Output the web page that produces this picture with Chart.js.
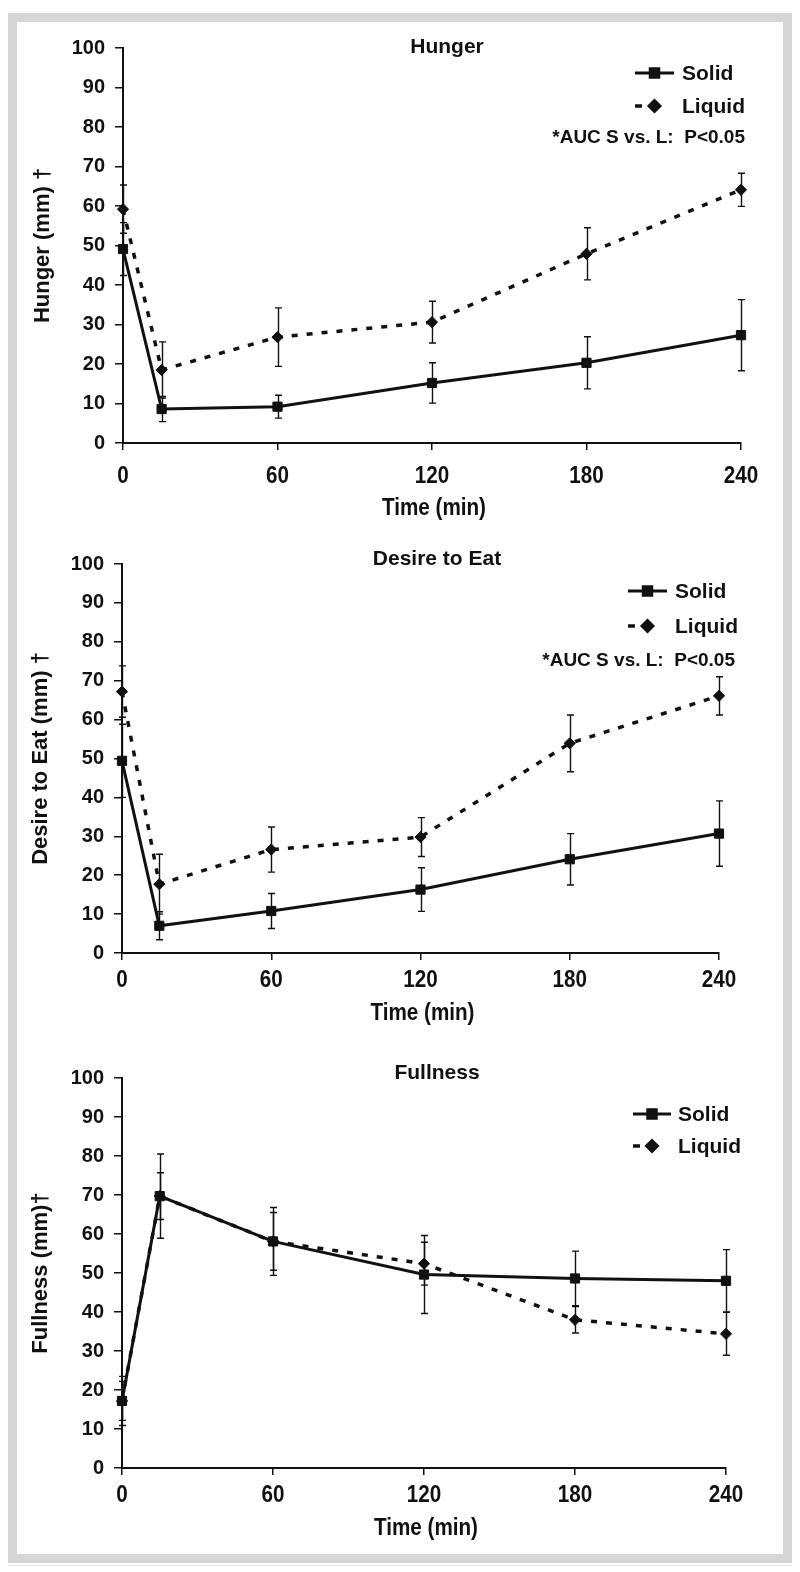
<!DOCTYPE html>
<html>
<head>
<meta charset="utf-8">
<script src="https://cdn.jsdelivr.net/npm/chart.js@4.4.1/dist/chart.umd.min.js"></script>
<style>
  html, body { margin: 0; padding: 0; background: #fff; }
  body { width: 800px; height: 1572px; position: relative; overflow: hidden; }
  #frame {
    position: absolute; left: 8px; top: 13px;
    width: 766px; height: 1532px;
    border: 9px solid #d6d6d6; background: #fff;
    box-shadow: 0 2px 0 #fff, 0 3px 0 #e6e6e6;
  }
  canvas { position: absolute; left: 0; }
</style>
</head>
<body>
<div id="frame"></div>
<canvas id="c1" width="800" height="530" style="top:0px"></canvas>
<canvas id="c2" width="800" height="510" style="top:530px"></canvas>
<canvas id="c3" width="800" height="532" style="top:1040px"></canvas>

<script>
// ── Datos ──────────────────────────────────────────────────────────────────
const TIMES        = [0, 15, 60, 120, 180, 240];
const X_TICKS      = [0, 60, 120, 180, 240];
const X_TITLE      = 'Time (min)';
const SERIES_NAMES = ['Solid', 'Liquid'];

const HUNGER_SOLID       = [49.1, 8.6, 9.2, 15.2, 20.3, 27.3];
const HUNGER_SOLID_ERR   = [6.7, 3.2, 2.9, 5.1, 6.6, 9.0];
const HUNGER_LIQUID      = [59.2, 18.5, 26.8, 30.6, 47.9, 64.1];
const HUNGER_LIQUID_ERR  = [6.1, 7.1, 7.4, 5.3, 6.6, 4.2];

const DESIRE_SOLID       = [49.4, 7.0, 10.8, 16.3, 24.1, 30.7];
const DESIRE_SOLID_ERR   = [9.4, 3.6, 4.5, 5.6, 6.6, 8.4];
const DESIRE_LIQUID      = [67.2, 17.7, 26.6, 29.8, 53.9, 66.1];
const DESIRE_LIQUID_ERR  = [6.6, 7.7, 5.8, 5.0, 7.3, 4.9];

const FULL_SOLID         = [17.2, 69.7, 58.1, 49.6, 48.6, 48.0];
const FULL_SOLID_ERR     = [6.3, 10.8, 8.7, 10.0, 7.0, 8.0];
const FULL_LIQUID        = [17.2, 69.7, 58.1, 52.4, 38.0, 34.4];
const FULL_LIQUID_ERR    = [5.0, 6.0, 7.4, 5.5, 3.4, 5.5];

const AUC_NOTE = '*AUC S vs. L:  P<0.05';

// ── Paneles (posiciones en coordenadas de página) ──────────────────────────
const PANELS = [
  {
    id: 'c1', top: 0, height: 530,
    area: { left: 123, top: 48, right: 741, bottom: 443 },
    tickY: 476, timeY: 508, yTitleX: 43,
    title: 'Hunger', titleX: 447, titleY: 53,
    yLabel: 'Hunger (mm) \u2020',
    legend: { x0: 635, x1: 674, textX: 682, rows: [73, 106] },
    note: { text: AUC_NOTE, right: 745, y: 143 },
    solid: HUNGER_SOLID, solidErr: HUNGER_SOLID_ERR,
    liquid: HUNGER_LIQUID, liquidErr: HUNGER_LIQUID_ERR,
  },
  {
    id: 'c2', top: 530, height: 510,
    area: { left: 122, top: 564, right: 719, bottom: 953 },
    tickY: 980, timeY: 1013, yTitleX: 41,
    title: 'Desire to Eat', titleX: 437, titleY: 565,
    yLabel: 'Desire to Eat (mm) \u2020',
    legend: { x0: 628, x1: 667, textX: 675, rows: [591, 626] },
    note: { text: AUC_NOTE, right: 735, y: 666 },
    solid: DESIRE_SOLID, solidErr: DESIRE_SOLID_ERR,
    liquid: DESIRE_LIQUID, liquidErr: DESIRE_LIQUID_ERR,
  },
  {
    id: 'c3', top: 1040, height: 532,
    area: { left: 122, top: 1078, right: 726, bottom: 1468 },
    tickY: 1495, timeY: 1528, yTitleX: 41,
    title: 'Fullness', titleX: 437, titleY: 1079,
    yLabel: 'Fullness (mm)\u2020',
    legend: { x0: 633, x1: 671, textX: 678, rows: [1114, 1146] },
    note: null,
    solid: FULL_SOLID, solidErr: FULL_SOLID_ERR,
    liquid: FULL_LIQUID, liquidErr: FULL_LIQUID_ERR,
  },
];

// ── Estilo ─────────────────────────────────────────────────────────────────
const INK     = '#111111';
const FONT    = "'Liberation Sans', Arial, Helvetica, sans-serif";
const X_SIZE  = 24;     // eje X: letra estrecha (escala horizontal)
const X_SQUEEZE = 0.86;
const Y_TITLE = 22;

Chart.defaults.font.family = FONT;
Chart.defaults.font.weight = 'bold';
Chart.defaults.color = INK;

function _narrowText(ctx, text, x, y) {
  ctx.save();
  ctx.translate(x, y);
  ctx.scale(X_SQUEEZE, 1);
  ctx.fillText(text, 0, 0);
  ctx.restore();
}

// ── Plugin: barras de error, eje X, título, leyenda y nota ─────────────────
const overlay = {
  id: 'overlay',
  beforeDatasetsDraw(chart) {
    const { ctx, scales: { x, y } } = chart;
    ctx.save();
    ctx.strokeStyle = INK;
    ctx.lineWidth = 1.4;
    chart.data.datasets.forEach(ds => {
      ds.data.forEach((p, i) => {
        const e  = ds.errors[i];
        const px = Math.round(x.getPixelForValue(p.x)) + 0.5;
        const t  = y.getPixelForValue(p.y + e);
        const b  = y.getPixelForValue(p.y - e);
        ctx.beginPath();
        ctx.moveTo(px, t); ctx.lineTo(px, b);
        ctx.moveTo(px - 3.5, t); ctx.lineTo(px + 3.5, t);
        ctx.moveTo(px - 3.5, b); ctx.lineTo(px + 3.5, b);
        ctx.stroke();
      });
    });
    ctx.restore();
  },
  afterDraw(chart, args, opts) {
    const P = opts.panel;
    const { ctx, scales: { x } } = chart;
    const dy = -P.top;
    ctx.save();
    ctx.fillStyle = INK;
    ctx.strokeStyle = INK;

    // etiquetas del eje X y su título
    ctx.font = `bold ${X_SIZE}px ${FONT}`;
    ctx.textAlign = 'center';
    ctx.textBaseline = 'middle';
    X_TICKS.forEach(v => _narrowText(ctx, String(v), x.getPixelForValue(v), P.tickY + dy));
    _narrowText(ctx, X_TITLE, (x.left + x.right) / 2 + 2, P.timeY + dy);

    // título
    ctx.font = `bold 21px ${FONT}`;
    ctx.textBaseline = 'alphabetic';
    ctx.fillText(P.title, P.titleX, P.titleY + dy);

    // leyenda
    const L = P.legend;
    const mid = (L.x0 + L.x1) / 2;
    chart.data.datasets.forEach((ds, i) => {
      const ry = L.rows[i] + dy;
      ctx.lineWidth = ds.borderWidth;
      ctx.beginPath();
      if (i === 0) {
        ctx.moveTo(L.x0, ry); ctx.lineTo(L.x1, ry);
      } else {
        ctx.moveTo(L.x0, ry); ctx.lineTo(L.x0 + 7, ry);
      }
      ctx.stroke();
      Chart.helpers.drawPoint(ctx, {
        pointStyle: ds.pointStyle, radius: ds.pointRadius - 0.5,
        rotation: 0, borderWidth: 1,
      }, mid, ry);
      ctx.fill();
      ctx.font = `bold 21px ${FONT}`;
      ctx.textAlign = 'left';
      ctx.textBaseline = 'middle';
      ctx.fillText(ds.label, L.textX, ry + 1);
    });

    // nota AUC
    if (P.note) {
      ctx.font = `bold 19px ${FONT}`;
      ctx.textAlign = 'right';
      ctx.textBaseline = 'alphabetic';
      ctx.fillText(P.note.text, P.note.right, P.note.y + dy);
    }
    ctx.restore();
  },
};

function _series(vals) {
  return TIMES.map((t, i) => ({ x: t, y: vals[i] }));
}

function _buildChart(P) {
  const xAxisH = P.top + P.height - P.area.bottom;

  return new Chart(document.getElementById(P.id), {
    type: 'line',
    data: {
      datasets: [
        {
          label: SERIES_NAMES[0],
          data: _series(P.solid),
          errors: P.solidErr,
          borderColor: INK,
          backgroundColor: INK,
          borderWidth: 3,
          pointStyle: 'rect',
          pointRadius: 6.5,
          pointBorderWidth: 1,
          tension: 0,
          clip: false,
        },
        {
          label: SERIES_NAMES[1],
          data: _series(P.liquid),
          errors: P.liquidErr,
          borderColor: INK,
          backgroundColor: INK,
          borderWidth: 3.5,
          borderDash: [6, 9],
          pointStyle: 'rectRot',
          pointRadius: 5.6,
          pointBorderWidth: 1,
          tension: 0,
          clip: false,
        },
      ],
    },
    options: {
      responsive: false,
      animation: false,
      events: [],
      layout: {
        padding: { top: P.area.top - P.top, right: 800 - P.area.right, left: 0, bottom: 0 },
      },
      plugins: {
        legend: { display: false },
        tooltip: { enabled: false },
        overlay: { panel: P },
      },
      scales: {
        x: {
          type: 'linear',
          min: 0, max: 240,
          afterBuildTicks: s => { s.ticks = X_TICKS.map(v => ({ value: v })); },
          afterFit: s => { s.height = xAxisH; },
          grid: { drawOnChartArea: false, drawTicks: true, tickLength: 7, color: INK, lineWidth: 1.5 },
          border: { color: INK, width: 2 },
          ticks: { display: false },
          title: { display: false },
        },
        y: {
          min: 0, max: 100,
          afterFit: s => { s.width = P.area.left; },
          grid: { drawOnChartArea: false, drawTicks: true, tickLength: 8, color: INK, lineWidth: 1.5 },
          border: { color: INK, width: 2 },
          ticks: { stepSize: 10, font: { size: 20, weight: 'bold' }, padding: 10, color: INK },
          title: {
            display: true, text: P.yLabel, color: INK,
            font: { size: Y_TITLE, weight: 'bold' },
            padding: { top: P.yTitleX - Y_TITLE * 0.6, bottom: 0 },
          },
        },
      },
    },
    plugins: [overlay],
  });
}

PANELS.forEach(_buildChart);
</script>
</body>
</html>
